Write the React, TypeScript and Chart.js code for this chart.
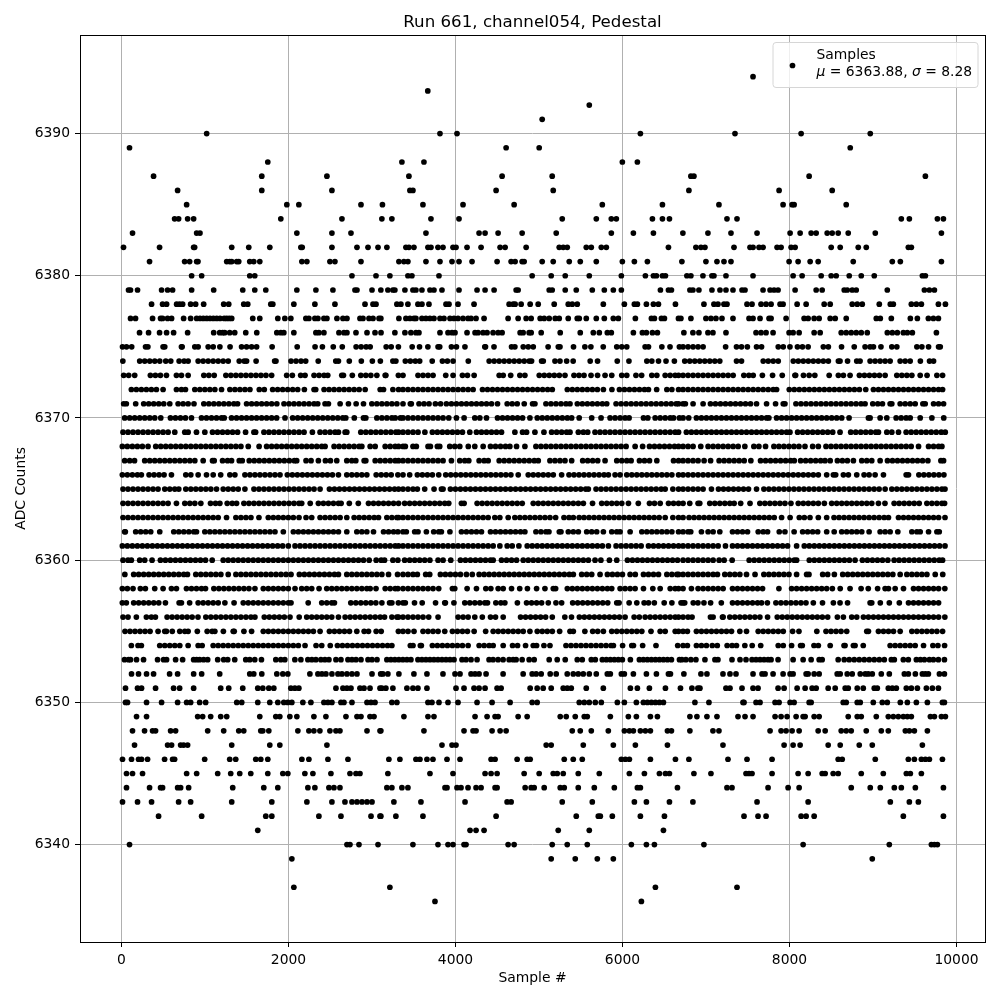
import React, { useEffect, useRef } from "react";
import { Chart, registerables } from "chart.js";

Chart.register(...registerables);

const chartTitle = "Run 661, channel054, Pedestal";
const xAxisTitle = "Sample #";
const yAxisTitle = "ADC Counts";
const legendLabel = "Samples";
const legendMean = "6363.88";
const legendSigma = "8.28";
const xTicks = [0, 2000, 4000, 6000, 8000, 10000];
const yTicks = [6340, 6350, 6360, 6370, 6380, 6390];

const x6394 = [7563];
const x6393 = [3668];
const x6392 = [5602];
const x6391 = [5038];
const x6390 = [1020, 3814, 4018, 6214, 7347, 8139, 8967];
const x6389 = [96, 4606, 5002, 8727];
const x6388 = [1752, 3358, 3622, 5998, 6178];
const x6387 = [384, 1680, 2460, 3442, 4558, 5158, 6819, 6855, 8235, 9627];
const x6386 = [672, 1680, 2520, 3454, 3490, 4486, 5170, 6795, 7875, 8511];
const x6385 = [780, 1980, 2124, 2868, 3125, 3610, 4090, 4702, 5758, 6478, 7155, 7923, 8031, 8055, 8679];
const x6384 = [636, 684, 792, 864, 1908, 2640, 3118, 3238, 3706, 4042, 5278, 5686, 5866, 5926, 6358, 6478, 6562, 7251, 7371, 9339, 9435, 9771, 9843];
const x6383 = [132, 900, 940, 2100, 2520, 2748, 3646, 4282, 4354, 4510, 4798, 5206, 5866, 6130, 6370, 6723, 7023, 7299, 7611, 8007, 8127, 8259, 8319, 8451, 8511, 8583, 8703, 9027, 9819];
const x6382 = [24, 456, 864, 876, 1320, 1524, 1776, 2148, 2164, 2520, 2820, 2952, 3072, 3178, 3406, 3442, 3502, 3670, 3706, 3790, 3850, 3970, 4006, 4138, 4306, 4534, 4594, 4846, 5242, 5290, 5338, 5566, 5626, 5746, 5806, 6550, 6879, 6939, 6987, 7335, 7527, 7563, 7635, 7683, 7851, 7899, 8019, 8067, 8499, 8607, 8823, 8919, 9423, 9459];
const x6381 = [336, 756, 816, 900, 916, 1260, 1296, 1320, 1380, 1404, 1536, 1584, 1656, 2160, 2220, 2496, 2556, 2868, 3322, 3382, 3430, 3646, 3814, 3958, 4042, 4198, 4498, 4666, 4714, 4798, 4822, 5038, 5170, 5362, 5494, 5686, 5998, 6142, 6298, 6711, 6999, 7131, 7215, 7299, 7995, 8103, 8247, 8343, 8763, 9231, 9327, 9819];
const x6380 = [840, 960, 1536, 1596, 2760, 3048, 3214, 3430, 3478, 3802, 4918, 5146, 5314, 5602, 5986, 6274, 6370, 6406, 6478, 6514, 6771, 6819, 6963, 7071, 7095, 7239, 7563, 8043, 8151, 8379, 8499, 8559, 8715, 8859, 9015, 9591, 9627];
const x6379 = [84, 108, 192, 480, 552, 612, 840, 1104, 1452, 1596, 1728, 2100, 2328, 2532, 2796, 2820, 3000, 3106, 3190, 3250, 3274, 3394, 3490, 3526, 3598, 3694, 3742, 3838, 4042, 4258, 4354, 4462, 4726, 4750, 5122, 5158, 5314, 5446, 5638, 5782, 5890, 5986, 6454, 6550, 6586, 6807, 6843, 6915, 7071, 7167, 7239, 7323, 7431, 7467, 7683, 7767, 7815, 7863, 8067, 8319, 8391, 8655, 8691, 8751, 8799, 9171, 9615, 9675, 9735];
const x6378 = [360, 492, 540, 660, 696, 732, 828, 888, 984, 1224, 1284, 1464, 1512, 1788, 1812, 2064, 2316, 2556, 2916, 3012, 3048, 3298, 3346, 3430, 3550, 3598, 3682, 3886, 3922, 4030, 4222, 4642, 4690, 4714, 4786, 4894, 4990, 5182, 5350, 5398, 5458, 5770, 6022, 6142, 6178, 6286, 6370, 6430, 6634, 6975, 7095, 7143, 7215, 7251, 7491, 7551, 7659, 7719, 7779, 7887, 7923, 8091, 8199, 8415, 8487, 8751, 8811, 8871, 9075, 9207, 9243, 9459, 9519, 9579, 9783, 9867];
const x6377 = [108, 168, 372, 468, 492, 552, 600, 744, 828, 900, 940, 980, 1020, 1060, 1100, 1140, 1180, 1230, 1260, 1290, 1320, 1572, 1656, 1872, 1956, 2028, 2208, 2244, 2316, 2352, 2424, 2460, 2580, 2652, 2700, 2856, 2892, 2964, 3012, 3084, 3106, 3322, 3406, 3454, 3502, 3526, 3598, 3646, 3694, 3742, 3814, 3862, 3934, 3982, 4030, 4090, 4150, 4186, 4246, 4342, 4630, 4750, 4846, 4906, 5014, 5062, 5122, 5194, 5242, 5350, 5458, 5482, 5566, 5686, 5782, 5890, 5950, 6154, 6346, 6382, 6466, 6502, 6670, 6699, 6819, 6999, 7059, 7119, 7191, 7323, 7515, 7563, 7647, 7755, 7779, 7959, 8175, 8223, 8295, 8355, 8487, 8547, 8679, 9039, 9087, 9219, 9447, 9531, 9663, 9723, 9783];
const x6376 = [216, 324, 456, 540, 624, 792, 1104, 1176, 1212, 1236, 1296, 1356, 1488, 1620, 1860, 1908, 1944, 2064, 2328, 2364, 2424, 2604, 2664, 2700, 2808, 2940, 3036, 3108, 3274, 3394, 3466, 3526, 3562, 3814, 3910, 3958, 3994, 4138, 4234, 4270, 4330, 4378, 4450, 4510, 4558, 4774, 4810, 4882, 4906, 5026, 5254, 5494, 5650, 5722, 5818, 5866, 6130, 6238, 6286, 6358, 6418, 6735, 6843, 6915, 7023, 7083, 7239, 7599, 7659, 7719, 7803, 7995, 8043, 8115, 8295, 8367, 8619, 8679, 8739, 8799, 8859, 8931, 9171, 9231, 9291, 9363, 9411, 9471, 9759];

const x6375 = [12, 60, 122, 288, 316, 498, 518, 718, 726, 878, 918, 1038, 1098, 1178, 1300, 1438, 1498, 1558, 1618, 1804, 2104, 2318, 2406, 2536, 2644, 2810, 2870, 2930, 2978, 3170, 3230, 3316, 3481, 3569, 3669, 3791, 3811, 3951, 4011, 4113, 4351, 4359, 4461, 4671, 4711, 4811, 4871, 4931, 5109, 5231, 5251, 5413, 5549, 5621, 5769, 5931, 5991, 6051, 6271, 6311, 6471, 6569, 6681, 6725, 6785, 6845, 6905, 6965, 7235, 7365, 7425, 7495, 7605, 7665, 7865, 7925, 8005, 8095, 8155, 8223, 8405, 8465, 8623, 8775, 8905, 8965, 9005, 9095, 9225, 9285, 9525, 9585, 9665, 9785, 9805];
const x6374 = [16, 218, 278, 338, 398, 458, 530, 590, 690, 750, 798, 918, 978, 1038, 1098, 1158, 1218, 1278, 1410, 1470, 1498, 1612, 1834, 1850, 2030, 2090, 2150, 2206, 2356, 2566, 2598, 2728, 2872, 3004, 3100, 3250, 3286, 3399, 3459, 3519, 3571, 3721, 3843, 3903, 3971, 4153, 4403, 4463, 4523, 4583, 4643, 4703, 4763, 4823, 4883, 4911, 5031, 5051, 5191, 5251, 5331, 5409, 5613, 5701, 5937, 6077, 6291, 6351, 6431, 6521, 6621, 6745, 6805, 6865, 6925, 6985, 7045, 7105, 7165, 7365, 7425, 7685, 7745, 7805, 7865, 8045, 8105, 8165, 8225, 8285, 8345, 8405, 8465, 8585, 8605, 8695, 8805, 8845, 8965, 9025, 9085, 9145, 9205, 9325, 9385, 9445, 9567, 9677, 9725];
const x6373 = [26, 86, 158, 346, 406, 466, 538, 658, 718, 798, 986, 1046, 1110, 1250, 1310, 1370, 1430, 1490, 1550, 1610, 1670, 1730, 1798, 1978, 2046, 2146, 2198, 2306, 2366, 2426, 2470, 2638, 2658, 2764, 2866, 2926, 2986, 3058, 3158, 3166, 3316, 3371, 3551, 3611, 3671, 3731, 3883, 3971, 4083, 4143, 4223, 4523, 4571, 4661, 4771, 4831, 5003, 5063, 5123, 5183, 5243, 5311, 5419, 5479, 5539, 5623, 5701, 5791, 5871, 5991, 6051, 6161, 6229, 6351, 6411, 6511, 6571, 6631, 6671, 6725, 6785, 6845, 6905, 6965, 7025, 7085, 7145, 7205, 7265, 7325, 7453, 7513, 7565, 7675, 7797, 7913, 8065, 8073, 8167, 8235, 8303, 8475, 8585, 8645, 8725, 8837, 8897, 8957, 9017, 9077, 9145, 9285, 9345, 9405, 9465, 9565, 9647, 9765, 9833];
const x6372 = [118, 178, 238, 298, 358, 418, 498, 658, 718, 766, 878, 938, 998, 1058, 1118, 1198, 1298, 1358, 1418, 1478, 1538, 1650, 1710, 1810, 1870, 1930, 1990, 2050, 2110, 2190, 2306, 2326, 2426, 2486, 2546, 2606, 2666, 2726, 2786, 2846, 2918, 3098, 3138, 3250, 3318, 3371, 3431, 3491, 3551, 3611, 3671, 3731, 3791, 3851, 3911, 3971, 4031, 4091, 4151, 4211, 4323, 4383, 4443, 4503, 4563, 4623, 4683, 4743, 4803, 4863, 4923, 4983, 5043, 5103, 5159, 5339, 5399, 5459, 5519, 5579, 5639, 5699, 5771, 5873, 5963, 6023, 6083, 6143, 6203, 6263, 6311, 6409, 6531, 6591, 6671, 6725, 6785, 6845, 6905, 6965, 7025, 7085, 7145, 7205, 7265, 7325, 7385, 7445, 7505, 7565, 7625, 7685, 7745, 7805, 7845, 7997, 8057, 8117, 8177, 8237, 8297, 8357, 8417, 8477, 8537, 8597, 8657, 8717, 8777, 8837, 8913, 9005, 9065, 9125, 9185, 9245, 9305, 9365, 9425, 9485, 9545, 9605, 9665, 9725, 9785, 9833];
const x6371 = [26, 58, 170, 266, 326, 386, 446, 506, 578, 678, 738, 798, 868, 986, 1046, 1106, 1166, 1226, 1286, 1346, 1390, 1498, 1558, 1618, 1678, 1738, 1798, 1860, 1946, 2006, 2066, 2126, 2186, 2246, 2306, 2350, 2438, 2478, 2618, 2718, 2810, 2898, 2998, 3058, 3118, 3178, 3238, 3298, 3371, 3459, 3471, 3563, 3623, 3683, 3759, 3821, 3891, 3951, 4011, 4071, 4131, 4191, 4251, 4311, 4371, 4431, 4503, 4619, 4679, 4739, 4823, 4923, 4951, 5083, 5143, 5203, 5263, 5323, 5371, 5459, 5519, 5579, 5639, 5699, 5759, 5811, 5923, 5983, 6043, 6103, 6163, 6223, 6283, 6343, 6403, 6463, 6523, 6583, 6643, 6671, 6725, 6753, 6845, 6965, 7053, 7113, 7173, 7233, 7293, 7353, 7413, 7473, 7533, 7605, 7725, 7833, 7925, 7945, 8077, 8137, 8197, 8257, 8317, 8377, 8437, 8497, 8557, 8617, 8677, 8737, 8797, 8857, 8905, 8997, 9057, 9113, 9205, 9225, 9325, 9385, 9445, 9505, 9597, 9625, 9725, 9785, 9845];
const x6370 = [38, 98, 158, 218, 278, 338, 398, 470, 586, 646, 706, 766, 838, 958, 1018, 1078, 1138, 1198, 1230, 1318, 1378, 1438, 1498, 1558, 1618, 1678, 1738, 1798, 1858, 1958, 2050, 2110, 2170, 2230, 2290, 2350, 2410, 2470, 2530, 2590, 2650, 2686, 2788, 2898, 2926, 3058, 3118, 3178, 3238, 3278, 3340, 3371, 3431, 3491, 3551, 3611, 3671, 3731, 3791, 3851, 3919, 4011, 4103, 4231, 4291, 4371, 4503, 4563, 4623, 4683, 4743, 4803, 4891, 4979, 5039, 5099, 5159, 5219, 5279, 5339, 5391, 5481, 5631, 5743, 5851, 5911, 5971, 6031, 6079, 6251, 6303, 6391, 6451, 6511, 6571, 6611, 6681, 6725, 6793, 6885, 6945, 7005, 7065, 7125, 7185, 7245, 7305, 7365, 7425, 7485, 7545, 7605, 7665, 7725, 7753, 7845, 7905, 7965, 8025, 8085, 8145, 8205, 8265, 8325, 8385, 8445, 8505, 8565, 8625, 8713, 8945, 8965, 9085, 9165, 9277, 9337, 9397, 9445, 9565, 9705, 9847];
const x6369 = [18, 78, 138, 198, 258, 318, 378, 438, 498, 558, 638, 758, 798, 898, 998, 1090, 1150, 1210, 1270, 1330, 1390, 1486, 1586, 1606, 1706, 1766, 1826, 1886, 1946, 2006, 2066, 2126, 2186, 2286, 2378, 2438, 2498, 2558, 2598, 2678, 2698, 2866, 2926, 2986, 3046, 3106, 3166, 3226, 3286, 3318, 3371, 3431, 3491, 3551, 3633, 3723, 3783, 3843, 3903, 3963, 4023, 4083, 4171, 4251, 4311, 4371, 4431, 4491, 4551, 4711, 4803, 4851, 4951, 5059, 5151, 5211, 5271, 5331, 5371, 5471, 5531, 5583, 5671, 5731, 5791, 5851, 5911, 5971, 6031, 6091, 6151, 6211, 6271, 6331, 6391, 6451, 6511, 6571, 6631, 6671, 6765, 6825, 6885, 6945, 7005, 7065, 7125, 7185, 7245, 7305, 7365, 7425, 7485, 7545, 7605, 7665, 7725, 7785, 7845, 7905, 7965, 8005, 8097, 8157, 8217, 8277, 8337, 8397, 8457, 8517, 8605, 8733, 8793, 8853, 8913, 8973, 9033, 9065, 9165, 9225, 9305, 9397, 9457, 9517, 9577, 9637, 9697, 9757, 9817, 9865];
const x6368 = [10, 70, 130, 190, 250, 318, 410, 470, 530, 590, 650, 710, 770, 830, 890, 950, 1010, 1070, 1130, 1190, 1250, 1310, 1370, 1430, 1518, 1648, 1738, 1798, 1858, 1918, 1978, 2038, 2098, 2158, 2218, 2278, 2338, 2398, 2438, 2546, 2606, 2666, 2726, 2786, 2846, 2878, 2978, 3038, 3158, 3218, 3278, 3318, 3371, 3399, 3491, 3531, 3671, 3699, 3783, 3811, 3931, 3991, 4051, 4153, 4231, 4331, 4419, 4479, 4539, 4599, 4651, 4731, 4831, 4963, 5023, 5083, 5143, 5203, 5263, 5323, 5383, 5443, 5503, 5563, 5623, 5683, 5743, 5803, 5863, 5923, 5983, 6043, 6151, 6241, 6323, 6383, 6443, 6503, 6563, 6623, 6671, 6725, 6785, 6845, 6937, 7025, 7085, 7145, 7205, 7265, 7325, 7385, 7465, 7573, 7633, 7713, 7813, 7873, 7933, 7993, 8053, 8113, 8185, 8277, 8345, 8437, 8497, 8557, 8617, 8677, 8737, 8797, 8857, 8917, 8977, 9037, 9097, 9157, 9217, 9277, 9337, 9397, 9457, 9545, 9665, 9725, 9785, 9825];
const x6367 = [38, 98, 156, 278, 338, 398, 458, 518, 578, 638, 698, 758, 818, 878, 978, 1090, 1110, 1210, 1270, 1318, 1410, 1446, 1530, 1590, 1650, 1710, 1770, 1830, 1890, 1950, 2010, 2070, 2098, 2210, 2270, 2358, 2442, 2502, 2578, 2698, 2758, 2806, 2906, 2926, 3038, 3098, 3158, 3218, 3278, 3318, 3371, 3431, 3491, 3551, 3611, 3671, 3731, 3791, 3851, 3951, 4051, 4111, 4159, 4283, 4343, 4391, 4523, 4583, 4643, 4703, 4763, 4823, 4883, 4943, 4991, 5131, 5191, 5251, 5311, 5391, 5523, 5583, 5643, 5703, 5791, 5931, 5991, 6051, 6103, 6203, 6263, 6323, 6411, 6611, 6671, 6725, 6785, 6845, 6905, 6977, 7055, 7157, 7217, 7277, 7337, 7397, 7457, 7537, 7653, 7713, 7773, 7833, 7893, 7953, 8013, 8057, 8133, 8193, 8253, 8313, 8373, 8425, 8487, 8573, 8633, 8693, 8765, 8865, 8925, 8985, 9085, 9173, 9233, 9293, 9353, 9413, 9473, 9533, 9593, 9657, 9813, 9845];
const x6366 = [10, 70, 130, 190, 238, 330, 390, 450, 510, 598, 770, 830, 918, 1018, 1098, 1188, 1298, 1358, 1478, 1538, 1598, 1658, 1718, 1778, 1838, 1898, 1986, 2046, 2106, 2166, 2226, 2286, 2346, 2406, 2466, 2526, 2598, 2698, 2758, 2818, 2878, 2938, 3050, 3110, 3170, 3230, 3310, 3371, 3451, 3543, 3603, 3663, 3723, 3799, 3883, 3943, 4003, 4063, 4123, 4183, 4243, 4303, 4363, 4423, 4483, 4543, 4603, 4663, 4751, 4871, 4931, 4991, 5051, 5111, 5171, 5271, 5359, 5419, 5479, 5539, 5599, 5659, 5719, 5779, 5831, 5911, 5971, 6051, 6111, 6171, 6231, 6291, 6351, 6411, 6471, 6531, 6591, 6671, 6725, 6785, 6845, 6905, 6965, 7025, 7085, 7145, 7205, 7265, 7325, 7385, 7445, 7505, 7565, 7625, 7685, 7745, 7805, 7865, 7925, 7985, 8045, 8105, 8165, 8225, 8285, 8345, 8445, 8525, 8553, 8645, 8705, 8805, 8893, 8953, 9025, 9125, 9397, 9425, 9549, 9609, 9669, 9729, 9789, 9849];
const x6365 = [18, 78, 138, 198, 258, 318, 378, 438, 518, 578, 638, 686, 770, 830, 890, 950, 1010, 1070, 1138, 1218, 1278, 1338, 1398, 1478, 1586, 1646, 1706, 1766, 1826, 1886, 1946, 2006, 2066, 2126, 2186, 2246, 2306, 2378, 2490, 2550, 2610, 2670, 2730, 2790, 2850, 2910, 2970, 3030, 3090, 3150, 3210, 3270, 3318, 3371, 3431, 3491, 3543, 3631, 3743, 3831, 3851, 3939, 3999, 4059, 4119, 4179, 4239, 4299, 4359, 4419, 4479, 4539, 4599, 4659, 4719, 4779, 4839, 4899, 4959, 5019, 5079, 5139, 5199, 5259, 5319, 5379, 5439, 5499, 5559, 5591, 5683, 5743, 5803, 5863, 5923, 5983, 6043, 6103, 6163, 6223, 6283, 6343, 6403, 6463, 6511, 6603, 6671, 6725, 6785, 6845, 6905, 6965, 7065, 7149, 7209, 7269, 7329, 7389, 7449, 7509, 7605, 7693, 7753, 7813, 7873, 7933, 7993, 8053, 8113, 8173, 8233, 8293, 8353, 8413, 8473, 8533, 8593, 8653, 8713, 8773, 8833, 8893, 8953, 9013, 9073, 9145, 9225, 9285, 9345, 9405, 9465, 9525, 9585, 9645, 9705, 9765, 9825, 9862];
const x6364 = [18, 78, 138, 198, 258, 318, 378, 438, 498, 558, 658, 758, 818, 878, 950, 1066, 1126, 1178, 1266, 1326, 1378, 1466, 1526, 1586, 1646, 1706, 1766, 1826, 1886, 1946, 2006, 2066, 2126, 2158, 2260, 2358, 2418, 2478, 2538, 2598, 2630, 2728, 2836, 2958, 3018, 3078, 3138, 3198, 3258, 3318, 3391, 3451, 3511, 3571, 3631, 3691, 3751, 3811, 3871, 3919, 4071, 4103, 4259, 4319, 4379, 4439, 4499, 4559, 4619, 4679, 4739, 4799, 4931, 4991, 5051, 5111, 5171, 5231, 5291, 5351, 5411, 5471, 5531, 5641, 5751, 5811, 5871, 5931, 5991, 6071, 6189, 6323, 6383, 6451, 6551, 6611, 6671, 6725, 6805, 6905, 6925, 7045, 7105, 7165, 7225, 7285, 7337, 7415, 7527, 7645, 7705, 7765, 7825, 7885, 7945, 8017, 8105, 8165, 8225, 8285, 8345, 8417, 8505, 8565, 8625, 8685, 8745, 8805, 8865, 8925, 8985, 9065, 9143, 9253, 9313, 9373, 9433, 9493, 9553, 9645, 9705, 9765, 9825, 9857];
const x6363 = [18, 78, 138, 198, 258, 318, 378, 438, 498, 558, 618, 678, 738, 798, 858, 918, 978, 1038, 1098, 1158, 1258, 1370, 1430, 1490, 1550, 1646, 1758, 1818, 1878, 1938, 1998, 2058, 2126, 2210, 2278, 2378, 2438, 2498, 2558, 2618, 2698, 2786, 2846, 2906, 2966, 3026, 3078, 3178, 3238, 3298, 3318, 3371, 3431, 3491, 3551, 3611, 3671, 3731, 3791, 3851, 3911, 3971, 4031, 4091, 4151, 4211, 4271, 4331, 4391, 4471, 4531, 4631, 4711, 4771, 4831, 4891, 4951, 5011, 5071, 5131, 5199, 5299, 5359, 5411, 5481, 5539, 5599, 5659, 5719, 5779, 5839, 5899, 5959, 6019, 6079, 6139, 6199, 6259, 6319, 6379, 6439, 6511, 6603, 6671, 6725, 6797, 6857, 6917, 6977, 7037, 7097, 7157, 7217, 7277, 7337, 7397, 7457, 7517, 7577, 7637, 7697, 7757, 7817, 7905, 8007, 8117, 8177, 8245, 8345, 8445, 8533, 8593, 8653, 8713, 8773, 8833, 8893, 8953, 9013, 9073, 9133, 9185, 9305, 9365, 9425, 9485, 9545, 9605, 9665, 9725, 9785, 9862];
const x6362 = [38, 46, 170, 230, 290, 350, 458, 626, 686, 746, 806, 866, 898, 998, 1058, 1118, 1178, 1238, 1298, 1358, 1418, 1478, 1538, 1598, 1658, 1718, 1778, 1838, 1938, 2058, 2118, 2178, 2238, 2298, 2358, 2418, 2478, 2538, 2598, 2698, 2818, 2878, 2938, 3018, 3138, 3198, 3258, 3310, 3371, 3411, 3511, 3551, 3651, 3739, 3799, 3831, 3933, 4071, 4131, 4191, 4251, 4311, 4419, 4479, 4539, 4599, 4659, 4719, 4779, 4831, 4963, 5023, 5083, 5119, 5243, 5263, 5351, 5411, 5471, 5571, 5631, 5691, 5771, 5871, 5931, 5971, 6091, 6231, 6291, 6351, 6411, 6471, 6531, 6591, 6671, 6725, 6785, 6817, 6945, 7025, 7085, 7165, 7317, 7377, 7437, 7497, 7625, 7685, 7737, 7877, 7945, 8055, 8157, 8217, 8277, 8337, 8445, 8535, 8625, 8685, 8745, 8805, 8865, 8953, 9085, 9145, 9205, 9297, 9465, 9525, 9565, 9665, 9765, 9793];
const x6361 = [10, 70, 130, 190, 250, 310, 370, 430, 490, 550, 610, 670, 730, 790, 850, 910, 970, 1030, 1090, 1150, 1210, 1270, 1330, 1390, 1450, 1510, 1570, 1630, 1690, 1750, 1810, 1870, 1930, 1998, 2078, 2138, 2198, 2258, 2318, 2378, 2438, 2498, 2558, 2618, 2678, 2738, 2798, 2858, 2918, 2978, 3038, 3098, 3158, 3218, 3278, 3318, 3371, 3431, 3491, 3551, 3611, 3671, 3731, 3791, 3851, 3911, 3971, 4031, 4091, 4151, 4211, 4271, 4331, 4391, 4451, 4531, 4619, 4679, 4759, 4859, 4919, 4979, 5039, 5099, 5159, 5219, 5279, 5339, 5399, 5459, 5519, 5579, 5639, 5699, 5759, 5831, 5923, 5983, 6043, 6103, 6163, 6223, 6311, 6371, 6431, 6491, 6551, 6611, 6671, 6725, 6785, 6845, 6905, 6965, 7025, 7085, 7145, 7233, 7317, 7377, 7437, 7497, 7557, 7617, 7677, 7737, 7797, 7857, 7917, 7977, 8085, 8177, 8237, 8297, 8357, 8417, 8477, 8537, 8597, 8657, 8717, 8777, 8837, 8897, 8957, 9017, 9077, 9137, 9197, 9257, 9317, 9377, 9437, 9497, 9557, 9617, 9677, 9737, 9797, 9862];
const x6360 = [18, 78, 118, 218, 278, 366, 466, 526, 586, 646, 706, 766, 826, 886, 946, 1006, 1086, 1218, 1278, 1338, 1398, 1458, 1518, 1578, 1638, 1698, 1758, 1818, 1878, 1938, 1998, 2058, 2118, 2178, 2238, 2298, 2358, 2418, 2478, 2538, 2598, 2658, 2718, 2778, 2838, 2898, 2966, 3050, 3110, 3150, 3250, 3310, 3391, 3451, 3511, 3571, 3631, 3693, 3791, 3851, 3943, 4059, 4119, 4179, 4239, 4299, 4359, 4419, 4451, 4551, 4611, 4671, 4731, 4811, 4871, 4931, 4991, 5051, 5111, 5171, 5231, 5291, 5351, 5411, 5471, 5531, 5591, 5671, 5741, 5843, 5931, 6059, 6119, 6179, 6239, 6299, 6359, 6419, 6479, 6539, 6599, 6659, 6725, 6785, 6845, 6905, 6965, 7025, 7085, 7157, 7217, 7313, 7517, 7577, 7637, 7697, 7757, 7817, 7877, 7937, 7997, 8057, 8085, 8237, 8297, 8357, 8417, 8477, 8537, 8597, 8657, 8717, 8785, 8873, 8933, 8993, 9053, 9113, 9177, 9253, 9313, 9373, 9433, 9493, 9553, 9613, 9673, 9733, 9793, 9833];
const x6359 = [40, 146, 206, 266, 326, 386, 446, 506, 566, 626, 686, 746, 790, 890, 950, 1010, 1070, 1130, 1190, 1278, 1370, 1430, 1490, 1550, 1610, 1670, 1730, 1790, 1850, 1910, 1970, 2030, 2130, 2190, 2250, 2310, 2370, 2430, 2490, 2550, 2598, 2698, 2758, 2818, 2878, 2938, 2998, 3058, 3118, 3198, 3306, 3371, 3431, 3491, 3543, 3643, 3691, 3819, 3879, 3939, 3999, 4059, 4131, 4201, 4283, 4343, 4403, 4463, 4523, 4583, 4643, 4703, 4763, 4823, 4883, 4943, 5003, 5063, 5123, 5183, 5243, 5303, 5363, 5411, 5511, 5571, 5631, 5731, 5819, 5879, 5939, 5999, 6091, 6153, 6251, 6311, 6371, 6431, 6531, 6591, 6651, 6671, 6725, 6785, 6845, 6905, 6965, 7025, 7085, 7137, 7225, 7285, 7345, 7405, 7485, 7587, 7693, 7753, 7813, 7873, 7933, 7993, 8085, 8205, 8233, 8397, 8457, 8537, 8637, 8697, 8757, 8817, 8877, 8937, 8997, 9057, 9117, 9177, 9237, 9325, 9405, 9465, 9525, 9585, 9645, 9745, 9835];
const x6358 = [10, 70, 138, 226, 286, 398, 498, 598, 658, 778, 838, 898, 958, 1006, 1106, 1166, 1226, 1286, 1346, 1406, 1466, 1526, 1598, 1698, 1758, 1818, 1878, 1938, 1998, 2078, 2158, 2218, 2278, 2366, 2458, 2518, 2578, 2638, 2698, 2758, 2818, 2878, 2938, 2978, 3048, 3158, 3218, 3278, 3310, 3371, 3431, 3491, 3551, 3611, 3671, 3731, 3799, 3963, 3991, 4139, 4251, 4363, 4423, 4511, 4571, 4671, 4769, 4861, 4971, 5071, 5171, 5199, 5339, 5399, 5459, 5519, 5579, 5639, 5699, 5759, 5819, 5871, 5971, 6031, 6091, 6151, 6251, 6363, 6451, 6571, 6631, 6671, 6725, 6825, 6905, 6965, 7025, 7085, 7145, 7205, 7317, 7377, 7437, 7497, 7557, 7617, 7677, 7873, 8025, 8085, 8145, 8205, 8265, 8325, 8385, 8445, 8513, 8607, 8725, 8857, 8943, 9055, 9145, 9185, 9265, 9365, 9485, 9545, 9605, 9665, 9725, 9785, 9860];
const x6357 = [10, 58, 146, 206, 266, 326, 386, 446, 526, 690, 718, 816, 918, 978, 1038, 1098, 1158, 1238, 1348, 1458, 1518, 1578, 1638, 1698, 1758, 1818, 1878, 1938, 1998, 2030, 2236, 2398, 2458, 2518, 2550, 2746, 2806, 2866, 2926, 2986, 3046, 3118, 3210, 3238, 3316, 3371, 3399, 3509, 3601, 3761, 3871, 3879, 3981, 4111, 4171, 4231, 4291, 4351, 4383, 4483, 4543, 4591, 4741, 4851, 4911, 4971, 5031, 5111, 5203, 5271, 5403, 5463, 5523, 5583, 5643, 5703, 5763, 5823, 5931, 5959, 6079, 6171, 6259, 6311, 6381, 6499, 6591, 6701, 6725, 6745, 6847, 6903, 6975, 7055, 7183, 7317, 7377, 7437, 7497, 7557, 7617, 7665, 7735, 7837, 7897, 7957, 8017, 8077, 8137, 8197, 8285, 8395, 8525, 8605, 8695, 8965, 8985, 9087, 9195, 9315, 9425, 9485, 9545, 9605, 9665, 9725, 9785];
const x6356 = [18, 78, 178, 298, 358, 406, 546, 606, 666, 726, 786, 846, 916, 1010, 1070, 1130, 1190, 1250, 1310, 1370, 1430, 1490, 1550, 1598, 1710, 1770, 1830, 1890, 1950, 2018, 2128, 2218, 2278, 2338, 2398, 2458, 2518, 2598, 2678, 2738, 2798, 2858, 2918, 2978, 3038, 3098, 3150, 3238, 3298, 3318, 3371, 3431, 3491, 3551, 3611, 3679, 3791, 4031, 4091, 4151, 4231, 4321, 4419, 4479, 4571, 4779, 4839, 4899, 4959, 5019, 5079, 5159, 5309, 5389, 5483, 5543, 5603, 5663, 5723, 5783, 5843, 5903, 5963, 6031, 6139, 6201, 6271, 6331, 6391, 6451, 6511, 6571, 6631, 6671, 6725, 6785, 6833, 7053, 7085, 7197, 7205, 7285, 7345, 7405, 7465, 7525, 7585, 7645, 7737, 7853, 7913, 7973, 8033, 8093, 8153, 8213, 8273, 8333, 8393, 8457, 8573, 8645, 8745, 8805, 8885, 8945, 9005, 9065, 9125, 9185, 9245, 9305, 9365, 9425, 9485, 9545, 9605, 9665, 9725, 9785, 9860];
const x6355 = [42, 102, 162, 222, 282, 342, 438, 518, 538, 608, 698, 758, 798, 908, 1026, 1086, 1118, 1220, 1338, 1350, 1466, 1558, 1698, 1758, 1818, 1878, 1938, 1998, 2058, 2118, 2178, 2238, 2298, 2378, 2490, 2550, 2610, 2670, 2730, 2818, 2906, 2958, 3050, 3110, 3316, 3371, 3431, 3503, 3611, 3671, 3731, 3791, 3871, 3963, 4023, 4083, 4143, 4223, 4361, 4451, 4511, 4571, 4631, 4691, 4751, 4811, 4891, 4979, 5039, 5099, 5159, 5247, 5371, 5411, 5549, 5643, 5703, 5771, 5871, 5931, 5991, 6051, 6111, 6171, 6231, 6341, 6451, 6511, 6631, 6671, 6725, 6777, 6885, 6945, 7005, 7065, 7125, 7185, 7245, 7305, 7405, 7485, 7625, 7685, 7745, 7805, 7865, 7925, 8037, 8113, 8327, 8437, 8497, 8557, 8617, 8685, 8925, 8945, 9065, 9125, 9185, 9245, 9325, 9465, 9525, 9585, 9645, 9705, 9765, 9833];
const x6354 = [118, 198, 238, 458, 518, 578, 638, 698, 798, 918, 966, 1098, 1158, 1218, 1278, 1338, 1398, 1458, 1518, 1578, 1638, 1698, 1758, 1818, 1878, 1938, 1998, 2058, 2118, 2198, 2330, 2398, 2500, 2586, 2646, 2706, 2766, 2826, 2886, 2946, 3006, 3066, 3126, 3186, 3238, 3459, 3491, 3579, 3591, 3723, 3783, 3843, 3903, 3963, 4023, 4083, 4151, 4283, 4343, 4403, 4451, 4571, 4683, 4743, 4839, 4931, 4971, 5059, 5131, 5323, 5383, 5443, 5503, 5563, 5623, 5683, 5743, 5803, 5863, 5891, 6001, 6111, 6131, 6241, 6401, 6661, 6725, 6777, 6885, 6945, 7005, 7075, 7135, 7253, 7313, 7365, 7465, 7553, 7655, 7865, 7925, 8025, 8133, 8153, 8293, 8345, 8487, 8653, 8665, 8765, 8785, 8883, 9205, 9265, 9325, 9385, 9445, 9505, 9605, 9717, 9777, 9857];

const x6353 = [36, 84, 108, 180, 264, 432, 504, 540, 648, 732, 864, 900, 936, 984, 1032, 1152, 1224, 1272, 1356, 1488, 1536, 1596, 1676, 1848, 1908, 1956, 2076, 2148, 2232, 2280, 2328, 2388, 2436, 2484, 2568, 2628, 2712, 2760, 2808, 2868, 2952, 3000, 3060, 3178, 3226, 3274, 3322, 3370, 3418, 3466, 3550, 3598, 3646, 3694, 3742, 3790, 3838, 3886, 3934, 3982, 4078, 4126, 4186, 4258, 4402, 4450, 4510, 4570, 4642, 4690, 4726, 4798, 4882, 4942, 5122, 5218, 5314, 5458, 5518, 5626, 5674, 5758, 5806, 5854, 5902, 5950, 5998, 6094, 6202, 6250, 6298, 6346, 6394, 6442, 6490, 6538, 6586, 6682, 6711, 6759, 6819, 6879, 6987, 7107, 7143, 7311, 7407, 7479, 7551, 7599, 7647, 7695, 7743, 7779, 7863, 8043, 8163, 8259, 8355, 8391, 8583, 8655, 8715, 8775, 8835, 8895, 8955, 9015, 9075, 9135, 9219, 9255, 9363, 9423, 9519, 9567, 9615, 9675, 9723, 9783, 9855];
const x6352 = [120, 204, 300, 384, 576, 672, 864, 960, 1176, 1536, 1584, 1680, 1860, 1932, 1992, 2256, 2352, 2400, 2448, 2520, 2592, 2640, 2700, 2760, 2820, 3000, 3104, 3130, 3190, 3322, 3502, 3658, 3850, 3994, 4054, 4186, 4234, 4282, 4366, 4570, 4810, 4918, 4966, 5026, 5134, 5206, 5338, 5410, 5470, 5530, 5602, 5686, 5818, 5854, 5986, 6022, 6130, 6286, 6406, 6550, 6574, 6735, 6939, 7011, 7203, 7287, 7359, 7563, 7671, 7707, 7803, 7923, 8007, 8043, 8199, 8223, 8295, 8355, 8571, 8607, 8691, 8751, 8847, 8907, 8943, 8991, 9099, 9195, 9375, 9423, 9507, 9591, 9627, 9663, 9795, 9855];
const x6351 = [48, 192, 240, 408, 624, 696, 864, 1188, 1284, 1452, 1632, 1692, 1764, 1824, 2028, 2076, 2124, 2568, 2652, 2700, 2748, 2856, 2904, 2976, 3096, 3118, 3166, 3250, 3418, 3490, 3550, 3658, 4006, 4102, 4222, 4282, 4354, 4498, 4546, 4894, 4978, 5050, 5146, 5290, 5338, 5386, 5566, 5770, 6094, 6178, 6322, 6514, 6694, 6831, 6903, 6927, 7239, 7287, 7431, 7563, 7623, 7863, 7935, 8091, 8187, 8271, 8319, 8463, 8547, 8667, 8703, 8811, 8883, 9015, 9051, 9183, 9231, 9279, 9399, 9459, 9531, 9639, 9711, 9783];
const x6350 = [48, 72, 300, 480, 672, 780, 828, 936, 1008, 1380, 1440, 1632, 1776, 1872, 1944, 1992, 2040, 2172, 2268, 2424, 2472, 2520, 2628, 2664, 2760, 2940, 2988, 3036, 3238, 3298, 3670, 3718, 3802, 3910, 4030, 4258, 4438, 4654, 4918, 4978, 5482, 5542, 5602, 5674, 5746, 5938, 6022, 6166, 6250, 6298, 6346, 6394, 6442, 6490, 6867, 7035, 7443, 7455, 7599, 7647, 7827, 7875, 8007, 8055, 8235, 8259, 8643, 8679, 8811, 8847, 9003, 9111, 9171, 9327, 9411, 9519, 9651, 9831, 9855];
const x6349 = [180, 300, 912, 972, 1068, 1188, 1260, 1656, 1848, 1896, 2016, 2100, 2304, 2448, 2688, 2820, 2868, 2976, 3024, 3382, 3670, 3742, 4234, 4378, 4474, 4510, 4750, 4858, 5254, 5326, 5434, 5542, 5578, 5854, 6070, 6166, 6334, 6418, 6807, 6891, 7011, 7131, 7383, 7467, 7563, 7827, 7899, 7971, 8079, 8163, 8187, 8295, 8355, 8703, 8811, 8859, 9039, 9183, 9243, 9303, 9363, 9411, 9459, 9687, 9735, 9819, 9867];
const x6348 = [132, 276, 372, 408, 588, 648, 1032, 1224, 1404, 1464, 1668, 1692, 1764, 2112, 2244, 2304, 2376, 2496, 2568, 2616, 2940, 3096, 3106, 3622, 4102, 4210, 4246, 4438, 4534, 4606, 5398, 5494, 5626, 5830, 6022, 6082, 6130, 6214, 6274, 6334, 6538, 6586, 6807, 7083, 7155, 7767, 7899, 7959, 8031, 8115, 8343, 8427, 8619, 8679, 8739, 8919, 9099, 9183, 9387, 9435, 9495, 9651];
const x6347 = [156, 552, 600, 708, 744, 792, 1320, 1776, 1896, 2460, 3838, 3958, 4006, 5086, 5146, 5530, 5890, 6154, 6538, 7203, 7935, 8043, 8127, 8463, 8607, 8835, 8991, 9591];
const x6346 = [12, 120, 204, 240, 312, 516, 612, 636, 996, 1296, 1368, 1608, 1668, 1752, 2160, 2244, 2472, 2712, 3202, 3334, 3526, 3574, 3658, 3730, 3898, 4054, 4426, 4474, 4738, 4858, 4894, 5302, 5410, 5518, 5986, 6034, 6082, 6334, 6634, 6795, 7263, 7491, 7791, 8583, 8631, 9027, 9423, 9495, 9579, 9627, 9675, 9831];
const x6345 = [60, 132, 252, 780, 900, 1152, 1308, 1416, 1548, 1752, 1932, 1992, 2196, 2292, 2508, 2736, 2808, 2856, 3190, 3694, 3970, 4354, 4426, 4498, 4822, 5002, 5170, 5218, 5290, 5470, 5722, 6082, 6262, 6442, 6514, 6562, 6855, 7059, 7479, 7515, 7551, 7791, 8103, 8223, 8391, 8427, 8523, 8583, 8859, 9123, 9399, 9447, 9579];
const x6344 = [60, 336, 468, 492, 672, 708, 804, 1332, 1704, 1872, 2232, 2316, 2484, 2544, 2616, 3178, 3238, 3358, 3430, 3874, 3898, 4018, 4066, 4150, 4246, 4306, 4474, 4498, 4834, 4906, 4942, 5062, 5254, 5302, 5470, 5662, 5902, 6178, 6214, 6658, 7251, 7311, 7743, 7983, 8115, 8739, 8967, 9087, 9255, 9339, 9507, 9843];
const x6343 = [12, 192, 360, 684, 828, 1320, 1800, 2220, 2520, 2676, 2760, 2820, 2880, 2940, 3000, 3262, 3586, 4114, 4618, 4666, 5278, 5638, 6142, 6286, 6562, 6843, 7611, 8223, 9207, 9435, 9543];
const x6342 = [444, 960, 1728, 1800, 2364, 2628, 2988, 3096, 3106, 3286, 3610, 4486, 5446, 5710, 5734, 5878, 6214, 6502, 7455, 7623, 7719, 8139, 8199, 8295, 9363, 9843];
const x6341 = [1632, 4174, 4246, 4342, 5230, 5602, 6490];
const x6340 = [96, 2700, 2736, 2844, 3072, 3490, 3790, 3910, 3970, 4102, 4126, 4630, 4702, 5158, 5338, 5578, 6106, 6286, 6382, 6975, 8163, 9195, 9699, 9735, 9771];
const x6339 = [2040, 5146, 5434, 5698, 5890, 8991];
const x6337 = [2064, 3214, 6394, 7371];
const x6336 = [3754, 6226];

const adcLevels = [6394, 6393, 6392, 6391, 6390, 6389, 6388, 6387, 6386, 6385, 6384, 6383, 6382, 6381, 6380, 6379, 6378, 6377, 6376, 6375, 6374, 6373, 6372, 6371, 6370, 6369, 6368, 6367, 6366, 6365, 6364, 6363, 6362, 6361, 6360, 6359, 6358, 6357, 6356, 6355, 6354, 6353, 6352, 6351, 6350, 6349, 6348, 6347, 6346, 6345, 6344, 6343, 6342, 6341, 6340, 6339, 6337, 6336];
const sampleColumns = [x6394, x6393, x6392, x6391, x6390, x6389, x6388, x6387, x6386, x6385, x6384, x6383, x6382, x6381, x6380, x6379, x6378, x6377, x6376, x6375, x6374, x6373, x6372, x6371, x6370, x6369, x6368, x6367, x6366, x6365, x6364, x6363, x6362, x6361, x6360, x6359, x6358, x6357, x6356, x6355, x6354, x6353, x6352, x6351, x6350, x6349, x6348, x6347, x6346, x6345, x6344, x6343, x6342, x6341, x6340, x6339, x6337, x6336];

const FONT = '"DejaVu Sans", sans-serif';
const samplePoints = adcLevels.flatMap((level, i) => sampleColumns[i].map((x) => ({ x, y: level })));

const framePlugin = {
  id: "frameAndLegend",
  afterDraw(chart: any) {
    const { ctx, chartArea: a } = chart;
    ctx.save();
    ctx.strokeStyle = "#000";
    ctx.lineWidth = 1;
    ctx.strokeRect(a.left + 0.5, a.top + 0.5, a.right - a.left, a.bottom - a.top);

    const bx = 773, by = 42.5, bw = 205, bh = 45, r = 3;
    ctx.beginPath();
    ctx.roundRect(bx, by, bw, bh, r);
    ctx.fillStyle = "rgba(255,255,255,0.8)";
    ctx.fill();
    ctx.strokeStyle = "#d6d6d6";
    ctx.stroke();

    ctx.fillStyle = "#000";
    ctx.beginPath();
    ctx.arc(792.5, 65.5, 2.85, 0, Math.PI * 2);
    ctx.fill();

    ctx.textBaseline = "alphabetic";
    ctx.textAlign = "left";
    ctx.font = `13.89px ${FONT}`;
    ctx.fillText(legendLabel, 816.5, 59);
    let x = 816.5;
    const y = 76;
    const put = (t: string, italic: boolean) => {
      ctx.font = `${italic ? "italic " : ""}13.89px ${FONT}`;
      ctx.fillText(t, x, y);
      x += ctx.measureText(t).width;
    };
    put("μ", true);
    put(` = ${legendMean}, `, false);
    put("σ", true);
    put(` = ${legendSigma}`, false);
    ctx.restore();
  },
};

export default function App() {
  const ref = useRef<HTMLCanvasElement>(null);
  useEffect(() => {
    document.body.style.margin = "0";
    const chart = new Chart(ref.current as HTMLCanvasElement, {
      type: "scatter",
      data: {
        datasets: [
          {
            label: legendLabel,
            data: samplePoints,
            backgroundColor: "#000",
            borderWidth: 0,
            pointRadius: 2.85,
            pointHoverRadius: 2.85,
          },
        ],
      },
      options: {
        responsive: false,
        animation: false,
        events: [],
        layout: { padding: { top: 0, right: 15, bottom: 0, left: 0 } },
        plugins: {
          legend: { display: false },
          tooltip: { enabled: false },
          title: {
            display: true,
            fullSize: false,
            text: chartTitle,
            color: "#000",
            font: { family: FONT, size: 16.67, weight: "normal", lineHeight: 1 },
            padding: { top: 14, bottom: 4.33 },
          },
        },
        scales: {
          x: {
            type: "linear",
            min: -497,
            max: 10341,
            afterFit(s: any) { s.height = 58; },
            afterBuildTicks(s: any) { s.ticks = xTicks.map((value) => ({ value })); },
            grid: { color: "#b0b0b0", lineWidth: 1, tickColor: "#000", tickLength: 5 },
            border: { display: false },
            ticks: { color: "#000", font: { family: FONT, size: 13.89 }, padding: 5, maxRotation: 0, autoSkip: false, callback: (v: any) => String(v) },
            title: { display: true, text: xAxisTitle, color: "#000", font: { family: FONT, size: 13.89 }, padding: { top: 3, bottom: 13 } },
          },
          y: {
            type: "linear",
            min: 6333.15,
            max: 6396.93,
            afterFit(s: any) { s.width = 80; },
            afterBuildTicks(s: any) { s.ticks = yTicks.map((value) => ({ value })); },
            grid: { color: "#b0b0b0", lineWidth: 1, tickColor: "#000", tickLength: 5 },
            border: { display: false },
            ticks: { color: "#000", font: { family: FONT, size: 13.89 }, padding: 5, autoSkip: false, callback: (v: any) => String(v) },
            title: { display: true, text: yAxisTitle, color: "#000", font: { family: FONT, size: 13.89 }, padding: { top: 13, bottom: 3 } },
          },
        },
      },
      plugins: [framePlugin],
    } as any);
    return () => chart.destroy();
  }, []);
  return <canvas ref={ref} width={1000} height={1000} style={{ display: "block" }} />;
}
